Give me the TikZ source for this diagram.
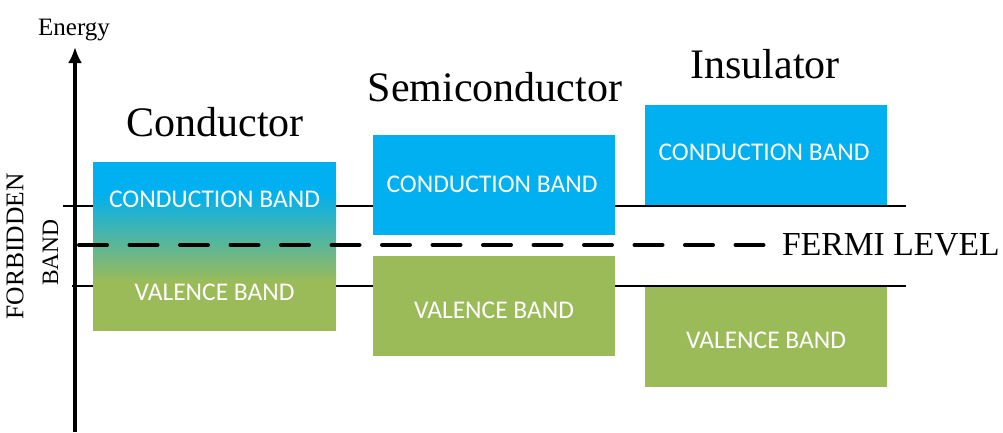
\documentclass[tikz,border=0pt]{standalone}
\usepackage{fontspec}
\setmainfont{Liberation Serif}
\newfontfamily\bandfont{Carlito}
\usetikzlibrary{arrows.meta}
\definecolor{bandblue}{HTML}{00B0F0}
\definecolor{bandgreen}{HTML}{9BBB59}

\begin{document}
\begin{tikzpicture}[x=1pt,y=-1pt,
  bandbox/.style={inner sep=0pt, outer sep=0pt, minimum width=242pt, minimum height=100pt},
  conduction/.style={bandbox, fill=bandblue},
  valence/.style={bandbox, fill=bandgreen},
  bandlabel/.style={text=white, font=\bandfont\fontsize{25.5}{30}\selectfont, inner sep=0pt},
  title/.style={font=\fontsize{42}{50}\selectfont, inner sep=0pt},
  sidelabel/.style={rotate=90, inner sep=0pt},
  level/.style={line width=1.8pt},
  fermi/.style={line width=4pt, dash pattern=on 28pt off 22.5pt, line cap=round},
  axis/.style={line width=3.5pt, -{Latex[length=16pt,width=14pt]}}
]
\useasboundingbox (0,0) rectangle (1003,432);

% energy axis
\coordinate (axis-bottom) at (75,432);
\coordinate (axis-top) at (75,47);
\draw[axis] (axis-bottom) -- (axis-top);
\node[font=\fontsize{25}{30}\selectfont, anchor=base, inner sep=0pt] (energy) at (74,35) {Energy};

% band edges
\coordinate (cb-edge-l) at (63,206);
\coordinate (cb-edge-r) at (906,206);
\coordinate (vb-edge-l) at (72,286);
\coordinate (vb-edge-r) at (906,286);
\draw[level] (cb-edge-l) -- (cb-edge-r);
\draw[level] (vb-edge-l) -- (vb-edge-r);

% gap label
\node[sidelabel, font=\fontsize{25.5}{30}\selectfont] (forbidden) at (15,246.5) {FORBIDDEN};
\node[sidelabel, font=\fontsize{23.5}{30}\selectfont] (forbidden-band) at (50.5,252.5) {BAND};

% conductor: overlapping bands, blended colour
\node[bandbox, minimum width=243pt, minimum height=169pt] (cond) at (214.5,246.5) {};
\fill[bandblue] (93,162) rectangle (336,193);
\shade[top color=bandblue, bottom color=bandgreen] (93,192.5) rectangle (336,281.5);
\fill[bandgreen] (93,281) rectangle (336,331);
\node[bandlabel] (cond-cb) at (214.5,199) {CONDUCTION BAND};
\node[bandlabel] (cond-vb) at (214.5,292) {VALENCE BAND};
\node[title] (cond-title) at (215,122) {Conductor};

% semiconductor
\node[conduction] (semi-cb) at (494,185) {};
\node[valence] (semi-vb) at (494,306) {};
\node[bandlabel] (semi-cb-label) at (492,184.5) {CONDUCTION BAND};
\node[bandlabel] (semi-vb-label) at (494,310.5) {VALENCE BAND};
\node[title] (semi-title) at (495,87) {Semiconductor};

% insulator
\node[conduction] (ins-cb) at (766,154.5) {};
\node[valence] (ins-vb) at (766,337) {};
\node[bandlabel] (ins-cb-label) at (764,152.5) {CONDUCTION BAND};
\node[bandlabel] (ins-vb-label) at (766,340.5) {VALENCE BAND};
\node[title] (ins-title) at (765,64) {Insulator};

% Fermi level
\coordinate (fermi-l) at (79,245);
\coordinate (fermi-r) at (765,245);
\draw[fermi] (fermi-l) -- (fermi-r);
\node[font=\fontsize{33.6}{40}\selectfont, anchor=west, inner sep=0pt] (fermi-label) at (782,245) {FERMI LEVEL};
\end{tikzpicture}
\end{document}
